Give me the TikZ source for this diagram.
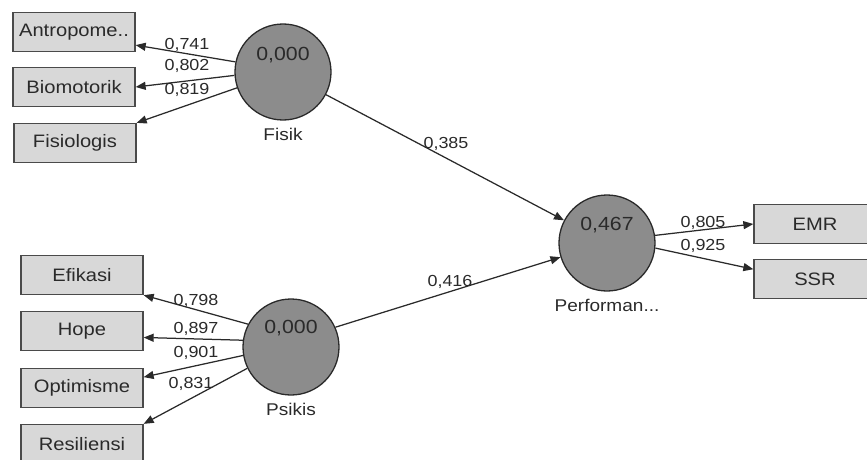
\documentclass[tikz,border=0pt]{standalone}
\usepackage{fontspec}
\setmainfont[FakeStretch=1.12]{Liberation Sans}
\usetikzlibrary{arrows.meta,calc}
\definecolor{mvfill}{HTML}{D8D8D8}
\definecolor{lvfill}{HTML}{8C8C8C}
\definecolor{ink}{HTML}{2A2A2A}
\tikzset{
  >={Triangle[length=10pt,width=8pt]},
  mvbox/.style={draw=ink!85,fill=mvfill,line width=1.3pt,minimum width=122pt,
    minimum height=39pt,inner sep=0pt,font=\fontsize{18}{20}\selectfont,text=ink},
  lvcirc/.style={circle,draw=ink,fill=lvfill,line width=1.3pt,minimum size=96pt,
    inner sep=0pt},
  lvval/.style={font=\fontsize{19}{21}\selectfont,text=ink,inner sep=0pt},
  lvname/.style={font=\fontsize{17}{20}\selectfont,text=ink,inner sep=0pt,
    yshift=-7pt},
  ldedge/.style={->,line width=1.25pt,color=ink},
  ldlbl/.style={font=\fontsize{16}{18}\selectfont,text=ink,inner sep=0pt},
}

\begin{document}
\begin{tikzpicture}[x=1pt,y=-1pt]
  \useasboundingbox (0,0) rectangle (867,460);
  % indicators
  \node[mvbox] (antro) at (74,32) {Antropome..};
  \node[mvbox] (bio) at (74,87) {Biomotorik};
  \node[mvbox] (fisio) at (75,143) {Fisiologis};
  \node[mvbox] (efik) at (82,275) {Efikasi};
  \node[mvbox] (hope) at (82,331) {Hope};
  \node[mvbox] (optim) at (82,388) {Optimisme};
  \node[mvbox] (resil) at (82,444) {Resiliensi};
  \node[mvbox] (emr) at (815,224) {EMR};
  \node[mvbox] (ssr) at (815,279) {SSR};
  % latent variables
  \node[lvcirc,label={[lvname]below:Fisik}] (fisik) at (283,72) {};
  \node[lvcirc,label={[lvname]below:Psikis}] (psikis) at (291,347) {};
  \node[lvcirc,label={[lvname]below:Performan...}] (perf) at (607,243) {};
  \node[lvval] (fisik-val) at ($(fisik)+(0,-17)$) {0,000};
  \node[lvval] (psikis-val) at ($(psikis)+(0,-19)$) {0,000};
  \node[lvval] (perf-val) at ($(perf)+(0,-18)$) {0,467};

  \path[ldedge]
    (fisik.168) edge (antro.-12)
    (fisik.184) edge (bio.east)
    (fisik.199) edge (fisio.north east)
    (psikis.152) edge (efik.south east)
    (psikis.172) edge (hope.-6)
    (psikis.190) edge (optim.10)
    (psikis.206) edge (resil.north east)
    (perf.9) edge (emr.west)
    (perf.-6) edge (ssr.171)
    (fisik) edge (perf)
    (psikis.24) edge (perf.197);

  \node[ldlbl] (l-antro) at (187,45) {0,741};
  \node[ldlbl] (l-bio) at (187,66) {0,802};
  \node[ldlbl] (l-fisio) at (187,90) {0,819};
  \node[ldlbl] (l-efik) at (196,301) {0,798};
  \node[ldlbl] (l-hope) at (196,329) {0,897};
  \node[ldlbl] (l-optim) at (196,353) {0,901};
  \node[ldlbl] (l-resil) at (191,384) {0,831};
  \node[ldlbl] (l-emr) at (703,223) {0,805};
  \node[ldlbl] (l-ssr) at (703,246) {0,925};
  \node[ldlbl] (l-fisik) at (446,144) {0,385};
  \node[ldlbl] (l-psikis) at (450,282) {0,416};
\end{tikzpicture}
\end{document}
